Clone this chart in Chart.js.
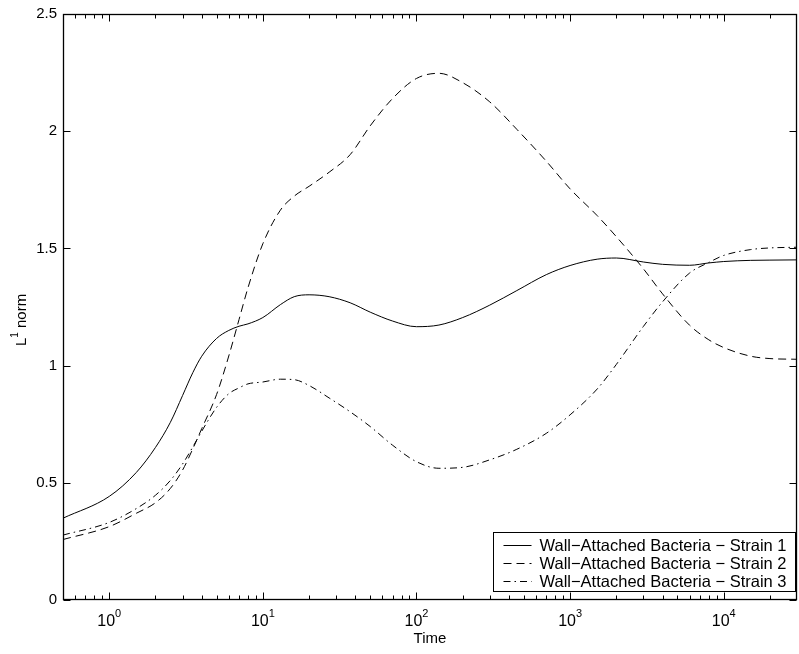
<!DOCTYPE html>
<html>
<head>
<meta charset="utf-8">
<script src="https://cdn.jsdelivr.net/npm/chart.js@4.4.0/dist/chart.umd.min.js"></script>
<style>
  html, body { margin: 0; padding: 0; background: #fff; }
</style>
</head>
<body>
<canvas id="chart" width="799" height="654"></canvas>
<script>
// sample times (log axis)
const times = [0.5, 1, 1.5, 2, 2.5, 3, 3.5, 4, 5, 6, 7, 8, 10, 13, 16, 20, 27, 37, 50, 70,
  100, 140, 200, 300, 450, 700, 1000, 1500, 2000, 3000, 4000, 6000, 8000, 10000, 15000, 20000, 30000];

const strain1 = [0.349, 0.442, 0.544, 0.651, 0.758, 0.872, 0.97, 1.04, 1.116, 1.15, 1.168, 1.178, 1.205, 1.26, 1.294, 1.302, 1.294, 1.268, 1.228, 1.19,
  1.166, 1.173, 1.205, 1.258, 1.32, 1.388, 1.427, 1.454, 1.459, 1.442, 1.432, 1.428, 1.438, 1.444, 1.449, 1.45, 1.451];

const strain2 = [0.258, 0.313, 0.37, 0.415, 0.476, 0.554, 0.645, 0.731, 0.877, 1.041, 1.197, 1.332, 1.52, 1.663, 1.723, 1.765, 1.825, 1.9, 2.023, 2.14,
  2.225, 2.247, 2.207, 2.125, 2.008, 1.872, 1.754, 1.64, 1.55, 1.413, 1.306, 1.172, 1.11, 1.077, 1.04, 1.03, 1.027];

const strain3 = [0.277, 0.331, 0.39, 0.447, 0.51, 0.58, 0.653, 0.72, 0.822, 0.88, 0.905, 0.922, 0.93, 0.942, 0.94, 0.915, 0.862, 0.803, 0.74, 0.66,
  0.59, 0.562, 0.566, 0.598, 0.643, 0.711, 0.79, 0.9, 1.005, 1.167, 1.272, 1.395, 1.44, 1.47, 1.495, 1.502, 1.505];

const seriesLabels = [
  "Wall\u2212Attached Bacteria \u2212 Strain 1",
  "Wall\u2212Attached Bacteria \u2212 Strain 2",
  "Wall\u2212Attached Bacteria \u2212 Strain 3"
];

const xDecades = [0, 1, 2, 3, 4];
const yTicks = [0, 0.5, 1, 1.5, 2, 2.5];

const FONT = '"Liberation Sans", Arial, Helvetica, sans-serif';

function pts(vals) {
  return times.map((t, i) => ({ x: t, y: vals[i] }));
}

// frame, inward ticks, labels and legend in the MATLAB style
const axesPlugin = {
  id: 'matlabAxes',
  afterDatasetsDraw(chart) {
    const ctx = chart.ctx;
    const a = chart.chartArea;
    const xs = chart.scales.x, ys = chart.scales.y;
    const L = Math.round(a.left) + 0.5, R = Math.round(a.right) - 0.5;
    const T = Math.round(a.top) + 0.5, B = Math.round(a.bottom) - 0.5;

    ctx.save();
    ctx.strokeStyle = '#000';
    ctx.fillStyle = '#000';
    ctx.lineWidth = 1;
    ctx.setLineDash([]);

    // x ticks (major + minor), bottom and top
    ctx.beginPath();
    for (let n = -1; n <= 4; n++) {
      for (let m = 1; m <= 9; m++) {
        const v = m * Math.pow(10, n);
        if (v <= 0.5 || v >= 30000) continue;
        const px = Math.round(xs.getPixelForValue(v)) + 0.5;
        const len = m === 1 ? 7 : 4;
        ctx.moveTo(px, B); ctx.lineTo(px, B - len);
        ctx.moveTo(px, T); ctx.lineTo(px, T + len);
      }
    }
    // y ticks left and right
    yTicks.forEach(v => {
      const py = Math.round(ys.getPixelForValue(v)) + 0.5;
      ctx.moveTo(L, py); ctx.lineTo(L + 7, py);
      ctx.moveTo(R, py); ctx.lineTo(R - 7, py);
    });
    ctx.stroke();

    // box
    ctx.lineWidth = 1.3;
    ctx.strokeRect(L, T, R - L, B - T);

    // y labels
    ctx.font = '15px ' + FONT;
    ctx.textAlign = 'right';
    ctx.textBaseline = 'middle';
    yTicks.forEach(v => {
      ctx.fillText(String(v), a.left - 6, ys.getPixelForValue(v));
    });

    // x labels 10^n
    ctx.textAlign = 'left';
    ctx.textBaseline = 'alphabetic';
    xDecades.forEach(n => {
      const px = xs.getPixelForValue(Math.pow(10, n));
      ctx.font = '16px ' + FONT;
      const w1 = ctx.measureText('10').width;
      ctx.font = '11px ' + FONT;
      const w2 = ctx.measureText(String(n)).width;
      const x0 = px - (w1 + w2) / 2;
      ctx.font = '16px ' + FONT;
      ctx.fillText('10', x0, a.bottom + 26);
      ctx.font = '11px ' + FONT;
      ctx.fillText(String(n), x0 + w1, a.bottom + 17);
    });

    // x title
    ctx.font = '15px ' + FONT;
    ctx.textAlign = 'center';
    ctx.fillText('Time', (a.left + a.right) / 2, a.bottom + 43);

    // y title: L^1 norm
    ctx.save();
    ctx.translate(26, 320);
    ctx.rotate(-Math.PI / 2);
    ctx.textAlign = 'left';
    ctx.font = '15px ' + FONT;
    const wL = ctx.measureText('L').width;
    const wN = ctx.measureText(' norm').width;
    ctx.font = '10px ' + FONT;
    const wS = ctx.measureText('1').width;
    let x0 = -(wL + wS + wN) / 2;
    ctx.font = '15px ' + FONT;
    ctx.fillText('L', x0, 0);
    ctx.font = '10px ' + FONT;
    ctx.fillText('1', x0 + wL, -8);
    ctx.font = '15px ' + FONT;
    ctx.fillText(' norm', x0 + wL + wS, 0);
    ctx.restore();

    // legend
    const lx = 493.5, ly = 532.5, lw = 302, lh = 59;
    ctx.fillStyle = '#fff';
    ctx.fillRect(lx, ly, lw, lh);
    ctx.lineWidth = 1;
    ctx.strokeRect(lx, ly, lw, lh);
    ctx.font = '16.5px ' + FONT;
    ctx.textAlign = 'left';
    ctx.textBaseline = 'middle';
    chart.data.datasets.forEach((ds, i) => {
      const ry = Math.round(ly + 12 + i * 18) + 0.5;
      ctx.setLineDash(ds.borderDash || []);
      ctx.beginPath();
      ctx.moveTo(lx + 10, ry);
      ctx.lineTo(lx + 38, ry);
      ctx.stroke();
      ctx.setLineDash([]);
      ctx.fillStyle = '#000';
      ctx.fillText(ds.label, lx + 46, ry + 1);
    });

    ctx.restore();
  }
};

const ctx = document.getElementById('chart').getContext('2d');

const chart = new Chart(ctx, {
  type: 'line',
  data: {
    datasets: [
      { label: seriesLabels[0], data: pts(strain1), borderColor: '#000', borderWidth: 1, borderDash: [] },
      { label: seriesLabels[1], data: pts(strain2), borderColor: '#000', borderWidth: 1, borderDash: [8, 5] },
      { label: seriesLabels[2], data: pts(strain3), borderColor: '#000', borderWidth: 1, borderDash: [7, 4, 1.5, 4] }
    ]
  },
  options: {
    responsive: false,
    animation: false,
    devicePixelRatio: 1,
    layout: { padding: { left: 63, right: 2, top: 14, bottom: 54 } },
    scales: {
      x: { type: 'logarithmic', min: 0.5, max: 30000, display: false },
      y: { type: 'linear', min: 0, max: 2.5, display: false }
    },
    elements: {
      point: { radius: 0 },
      line: { cubicInterpolationMode: 'monotone', fill: false }
    },
    plugins: {
      legend: { display: false },
      tooltip: { enabled: false }
    }
  },
  plugins: [axesPlugin]
});
</script>
</body>
</html>
